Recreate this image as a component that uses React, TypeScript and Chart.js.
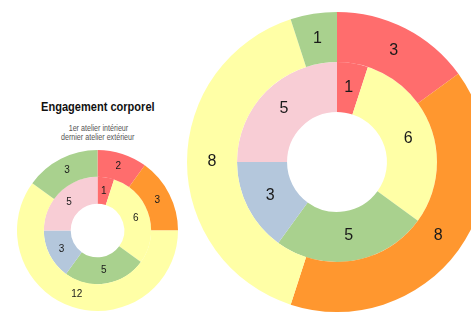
import React, { useEffect, useRef } from "react";
import { Chart, registerables } from "chart.js";

Chart.register(...registerables);

const innerLabels = ["Rouge", "Jaune", "Vert", "Bleu", "Rose"];
const innerValues = [1, 6, 5, 3, 5];
const innerColors = ["#ff6d6d", "#ffffa6", "#a9d18e", "#b4c7dc", "#f8cdd5"];

const outerLabels = ["Rouge", "Orange", "Jaune", "Vert"];
const outerColors = ["#ff6d6d", "#ff972f", "#ffffa6", "#a9d18e"];
const smallOuterValues = [2, 3, 12, 3];
const largeOuterValues = [3, 8, 8, 1];

const titleText = "Engagement corporel";
const subtitleLines = ["1er atelier intérieur", "dernier atelier extérieur"];

const valueLabels = (fontSize: number) => ({
  id: "valueLabels",
  afterDatasetsDraw(chart: any) {
    const ctx = chart.ctx;
    ctx.save();
    ctx.font = `${fontSize}px 'Liberation Sans', Arial, sans-serif`;
    ctx.fillStyle = "#1a1a1a";
    ctx.textAlign = "center";
    ctx.textBaseline = "middle";
    chart.data.datasets.forEach((ds: any, i: number) => {
      const meta = chart.getDatasetMeta(i);
      meta.data.forEach((arc: any, j: number) => {
        const p = arc.tooltipPosition();
        ctx.fillText(String(ds.data[j]), p.x, p.y);
      });
    });
    ctx.restore();
  },
});

function Donut({ outer, fontSize, style }: { outer: number[]; fontSize: number; style: React.CSSProperties }) {
  const ref = useRef<HTMLCanvasElement>(null);
  useEffect(() => {
    if (!ref.current) return;
    const chart = new Chart(ref.current, {
      type: "doughnut",
      data: {
        labels: outerLabels,
        datasets: [
          { data: outer, backgroundColor: outerColors, borderWidth: 0 },
          { data: innerValues, backgroundColor: innerColors, borderWidth: 0 },
        ] as any,
      },
      options: {
        animation: false,
        responsive: false,
        cutout: "33.3%",
        layout: { padding: 0 },
        plugins: { legend: { display: false }, tooltip: { enabled: false } },
      },
      plugins: [valueLabels(fontSize)],
    });
    return () => chart.destroy();
  }, []);
  const w = style.width as number;
  const h = style.height as number;
  return <canvas ref={ref} width={w} height={h} style={{ position: "absolute", ...style }} />;
}

export default function App() {
  return (
    <div
      style={{
        position: "fixed",
        left: 0,
        top: 0,
        width: 471,
        height: 314,
        overflow: "hidden",
        background: "#fff",
      }}
    >
      <div
        style={{
          position: "absolute",
          left: 0,
          width: 196,
          top: 99,
          textAlign: "center",
          fontFamily: "'Liberation Sans', Arial, sans-serif",
          fontWeight: "bold",
          fontSize: 13,
          lineHeight: "16px",
          color: "#111",
        }}
      >
        <span style={{ display: "inline-block", transform: "scaleX(0.85)", transformOrigin: "center" }}>
          {titleText}
        </span>
      </div>
      <div
        style={{
          position: "absolute",
          left: 0,
          width: 196,
          top: 124,
          textAlign: "center",
          fontFamily: "'Liberation Sans', Arial, sans-serif",
          fontSize: 8.5,
          lineHeight: "8.5px",
          color: "#555",
        }}
      >
        {subtitleLines.map((l) => (
          <div key={l}>
            <span style={{ display: "inline-block", transform: "scaleX(0.84)", transformOrigin: "center" }}>{l}</span>
          </div>
        ))}
      </div>
      <Donut outer={smallOuterValues} fontSize={10} style={{ left: 17, top: 150, width: 161, height: 161 }} />
      <Donut outer={largeOuterValues} fontSize={16} style={{ left: 187, top: 12, width: 300, height: 300 }} />
    </div>
  );
}
